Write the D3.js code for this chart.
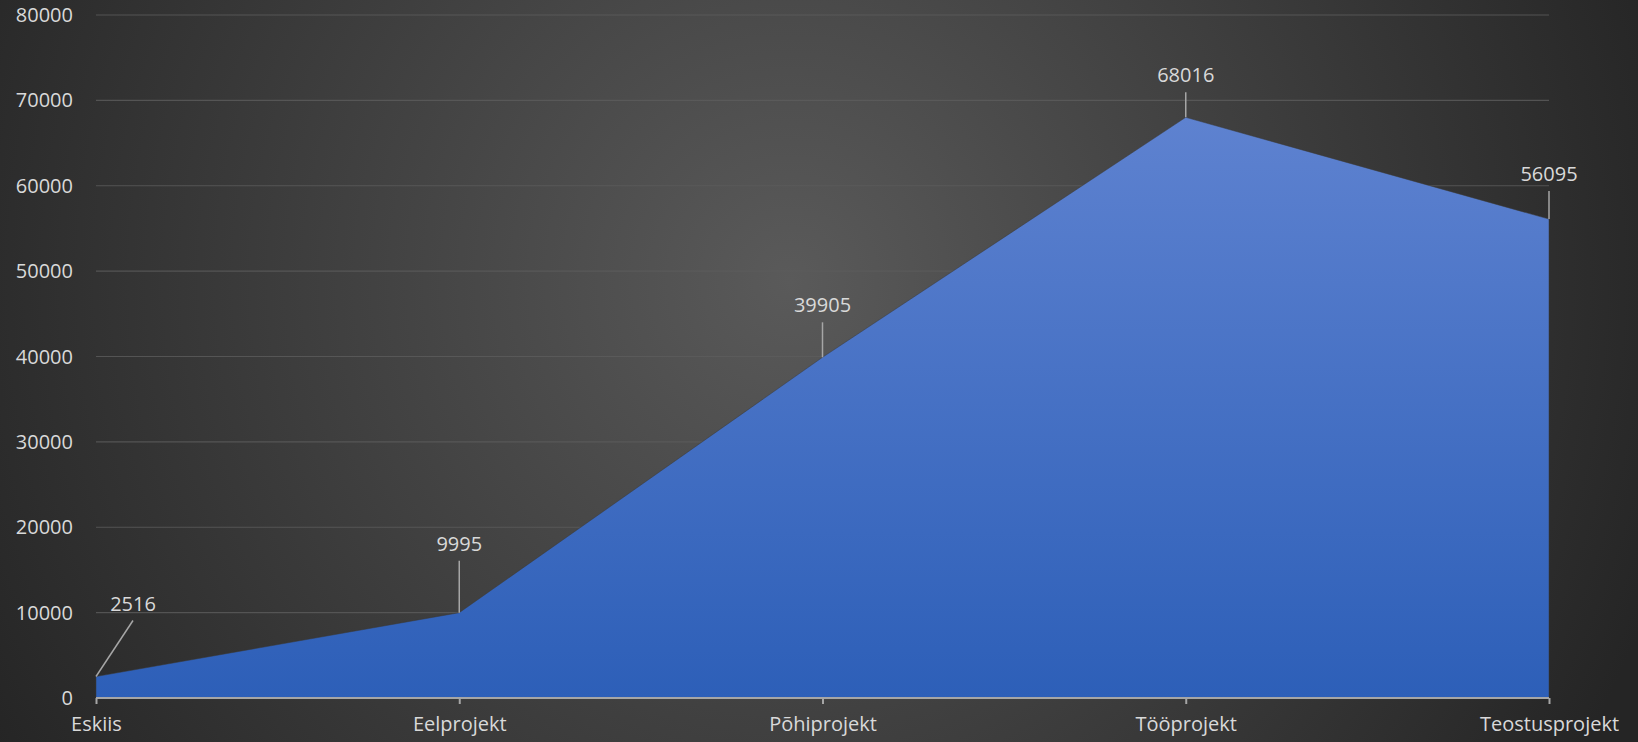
<!DOCTYPE html>
<html>
<head>
<meta charset="utf-8">
<script src="https://cdn.jsdelivr.net/npm/d3@7"></script>
<style>
  html, body { margin: 0; padding: 0; background: #262626; overflow: hidden; }
  text { font-family: "Open Sans", "Noto Sans", sans-serif; }
</style>
</head>
<body>
<div class="graph"></div>
<script>
// data
var categories = ["Eskiis", "Eelprojekt", "Põhiprojekt", "Tööprojekt", "Teostusprojekt"];
var values = [2516, 9995, 39905, 68016, 56095];
var yTicks = [0, 10000, 20000, 30000, 40000, 50000, 60000, 70000, 80000];
// label placement relative to the point (px)
var labelDx = [37, 0, 0, 0, 0];
var labelLead = [56, 52, 35, 25, 28];

var width = 1638, height = 742;
var margin = { top: 15, right: 89, bottom: 44, left: 96 };

var svg = d3.select(".graph").append("svg")
    .attr("width", width)
    .attr("height", height);

var defs = svg.append("defs");
var bg = defs.append("radialGradient")
    .attr("id", "bg")
    .attr("gradientUnits", "userSpaceOnUse")
    .attr("cx", 790).attr("cy", 280).attr("r", 920);
bg.append("stop").attr("offset", "0%").attr("stop-color", "#5a5a5a");
bg.append("stop").attr("offset", "100%").attr("stop-color", "#252525");

var ag = defs.append("linearGradient")
    .attr("id", "areaGrad")
    .attr("x1", 0).attr("y1", 0).attr("x2", 0).attr("y2", 1);
ag.append("stop").attr("offset", "0%").attr("stop-color", "#5e82d0");
ag.append("stop").attr("offset", "100%").attr("stop-color", "#2d5fb8");

svg.append("rect")
    .attr("width", width).attr("height", height)
    .attr("fill", "url(#bg)");

var x = d3.scalePoint().domain(categories).range([margin.left, width - margin.right]);
var y = d3.scaleLinear().domain([0, 80000]).range([height - margin.bottom, margin.top]);

// gridlines
svg.append("g")
    .selectAll("line")
    .data(yTicks.slice(1))
    .join("line")
    .attr("x1", margin.left).attr("x2", width - margin.right)
    .attr("y1", d => y(d)).attr("y2", d => y(d))
    .attr("stroke", "#5c5c5c")
    .attr("stroke-opacity", 0.8)
    .attr("stroke-width", 1.2);

// y tick labels
svg.append("g")
    .selectAll("text")
    .data(yTicks)
    .join("text")
    .attr("x", 73)
    .attr("y", d => y(d))
    .attr("dy", "0.35em")
    .attr("text-anchor", "end")
    .attr("fill", "#d9d9d9")
    .style("font-size", "20px")
    .text(d => d);

// area
var area = d3.area()
    .x((d, i) => x(categories[i]))
    .y0(y(0))
    .y1(d => y(d));
svg.append("path")
    .datum(values)
    .attr("fill", "url(#areaGrad)")
    .attr("stroke", "#3a3a3a")
    .attr("stroke-opacity", 0.5)
    .attr("stroke-width", 1)
    .attr("d", area);

// x axis
var xAxis = svg.append("g")
    .attr("transform", `translate(0, ${y(0)})`)
    .call(d3.axisBottom(x).tickSize(6).tickPadding(13));
xAxis.select(".domain")
    .attr("stroke", "#a6a6a6")
    .attr("stroke-width", 2.2)
    .attr("d", `M${margin.left},0H${width - margin.right}`);
xAxis.selectAll(".tick line")
    .attr("stroke", "#a6a6a6")
    .attr("stroke-width", 2);
xAxis.selectAll(".tick text")
    .attr("fill", "#d9d9d9")
    .style("font-family", "'Open Sans', 'Noto Sans', sans-serif")
    .style("font-size", "20px");

// data labels with leader lines
var labels = svg.append("g");
values.forEach(function (v, i) {
    var px = x(categories[i]), py = y(v);
    var lx = px + labelDx[i], ly = py - labelLead[i];
    labels.append("line")
        .attr("x1", px).attr("y1", py)
        .attr("x2", lx).attr("y2", ly)
        .attr("stroke", "#a6a6a6")
        .attr("stroke-width", 1.5);
    labels.append("text")
        .attr("x", lx)
        .attr("y", ly - 10)
        .attr("text-anchor", "middle")
        .attr("fill", "#d9d9d9")
        .style("font-size", "20px")
        .text(v);
});
</script>
</body>
</html>
